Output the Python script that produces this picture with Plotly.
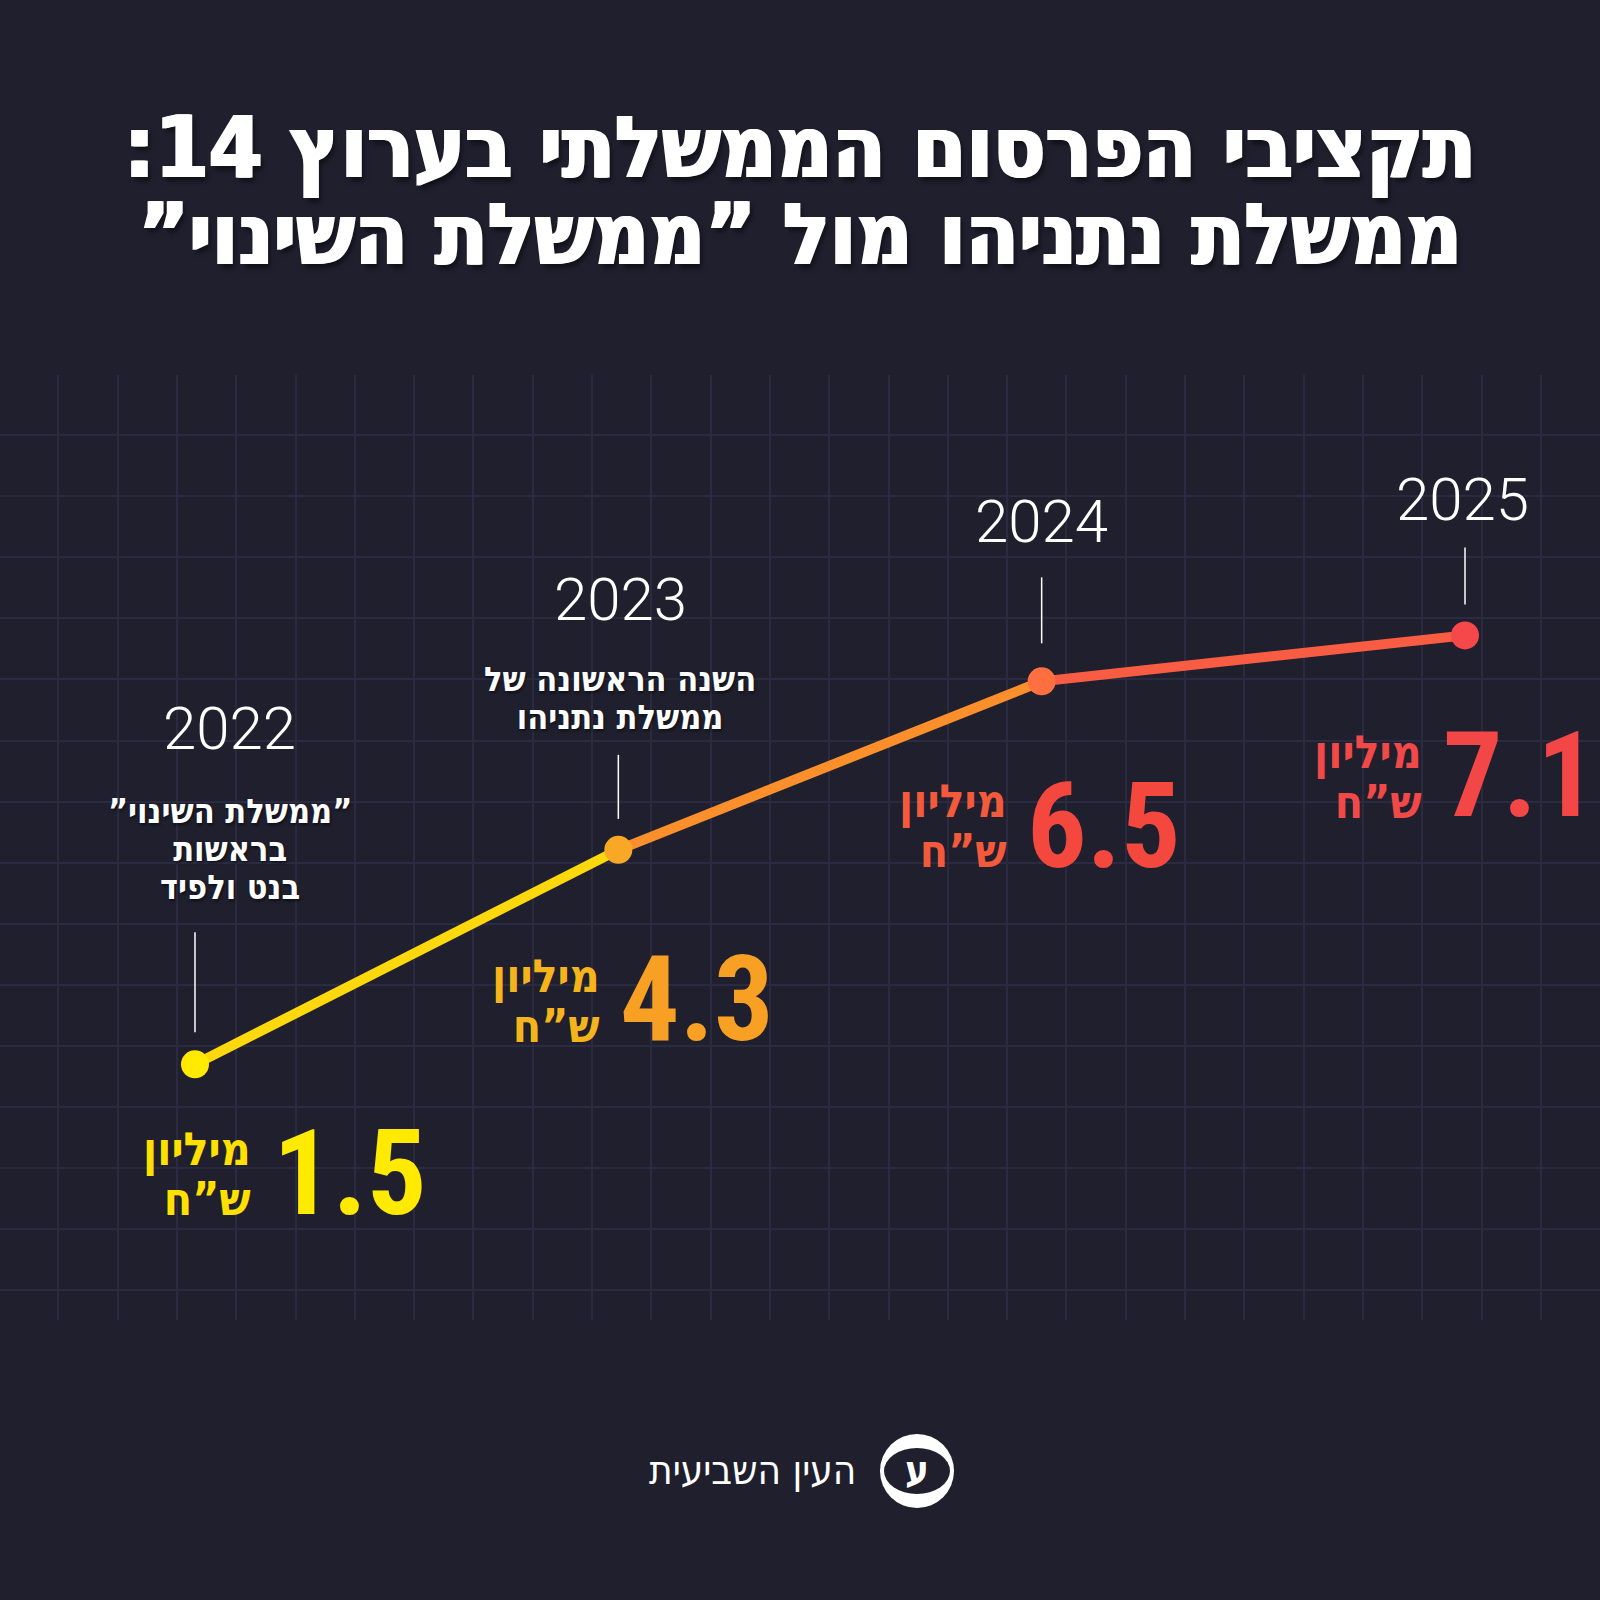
import plotly.graph_objects as go

RLM = "\u200f"

# data: government advertising budget on Channel 14, million NIS
years = [2022, 2023, 2024, 2025]
budget_m = [1.5, 4.3, 6.5, 7.1]
notes = [
    ["”ממשלת השינוי”", "בראשות", "בנט ולפיד"],
    ["השנה הראשונה של", "ממשלת נתניהו"],
    [],
    [],
]
unit_lines = ["מיליון", "ש”ח"]
title_lines = ["תקציבי הפרסום הממשלתי בערוץ 14:", "ממשלת נתניהו מול ”ממשלת השינוי”"]
brand = "העין השביעית"

# colours
BG = "#1f1f2e"
GRID = "#2a2b40"
dot_colors = ["#ffea00", "#f8a825", "#ff6f3f", "#f6474b"]
seg_colors = ["#fdd80d", "#fb8f2b", "#f85c43"]
num_colors = ["#ffea00", "#f7a024", "#f4483f", "#f34646"]
unit_colors = ["#ffe000", "#f5b41c", "#f35a3b", "#f14848"]

# label offsets in px, relative to each point (up is positive)
year_dx = [35, 2, 0, -3]
year_dy = [336, 250, 160, 136]
note_dx = [35, 2, 0, 0]
note_dy = [215, 152, 0, 0]
tick_lo = [32, 31, 38, 31]
tick_hi = [132, 95, 104, 88]
num_dx = [76, 0, -17, -24]
num_dy = [-110, -150, -146, -141]
unit_dx = [58, -16, -33, -41]
unit_dy = [-110, -151, -145, -142]

HEB = "DejaVu Sans Condensed"
NUM = "Noto Sans Condensed, Roboto Condensed, DejaVu Sans Condensed"


def px(x):
    return x / 1600


def py(y):
    return 1 - y / 1600


def rtl(s):
    return RLM + s + RLM


def stacked(lines, glyph_px, line_px):
    # plotly spaces lines at 1.3em of the base size, so the glyphs get
    # their own size and the base size sets the line pitch
    body = "<br>".join(f'<span style="font-size:{glyph_px}px">{rtl(s)}</span>' for s in lines)
    return body, line_px / 1.3


fig = go.Figure()

# empty trace so the background grid subplot gets drawn
fig.add_trace(go.Scatter(x=[None], y=[None], mode="lines", hoverinfo="skip", showlegend=False))

for i in range(len(years) - 1):
    fig.add_trace(go.Scatter(
        x=years[i:i + 2], y=budget_m[i:i + 2], mode="lines",
        line=dict(color=seg_colors[i], width=10),
        xaxis="x2", yaxis="y2", hoverinfo="skip", showlegend=False,
    ))

fig.add_trace(go.Scatter(
    x=years, y=budget_m, mode="markers",
    marker=dict(size=28, color=dot_colors),
    xaxis="x2", yaxis="y2", showlegend=False,
))

ann = []
shapes = []

# title (extra white shadows thicken the strokes)
t_text, t_size = stacked(title_lines, 86, 87)
ann.append(dict(
    text=t_text, xref="paper", yref="paper", x=0.5, y=py(190),
    xanchor="center", yanchor="middle", align="center", showarrow=False,
    font=dict(family=HEB, size=t_size, color="white", weight=800,
              shadow="1.5px 0 0 #fff, -1.5px 0 0 #fff, 3px 4px 5px rgba(0,0,0,0.5)"),
))

u_text, u_size = stacked(unit_lines, 46, 50)

for i, (yr, v) in enumerate(zip(years, budget_m)):
    ann.append(dict(
        text=str(yr), xref="x2", yref="y2", x=yr, y=v,
        xshift=year_dx[i], yshift=year_dy[i], showarrow=False,
        xanchor="center", yanchor="middle",
        font=dict(family="Roboto", size=60, color="white", weight=300),
    ))
    if notes[i]:
        n_text, n_size = stacked(notes[i], 34, 38)
        ann.append(dict(
            text=n_text, xref="x2", yref="y2", x=yr, y=v,
            xshift=note_dx[i], yshift=note_dy[i], showarrow=False,
            xanchor="center", yanchor="middle", align="center",
            font=dict(family=HEB, size=n_size, color="white", weight=600,
                      shadow="1px 2px 3px rgba(0,0,0,0.5)"),
        ))
    shapes.append(dict(
        type="line", xref="x2", yref="y2",
        xsizemode="pixel", ysizemode="pixel", xanchor=yr, yanchor=v,
        x0=0, x1=0, y0=tick_lo[i], y1=tick_hi[i],
        line=dict(color="white", width=1.5),
    ))
    ann.append(dict(
        text=f"{v:.1f}", xref="x2", yref="y2", x=yr, y=v,
        xshift=num_dx[i], yshift=num_dy[i], showarrow=False,
        xanchor="left", yanchor="middle",
        font=dict(family=NUM, size=118, color=num_colors[i], weight=700),
    ))
    ann.append(dict(
        text=u_text, xref="x2", yref="y2", x=yr, y=v,
        xshift=unit_dx[i], yshift=unit_dy[i], showarrow=False,
        xanchor="right", yanchor="middle", align="right",
        font=dict(family=HEB, size=u_size, color=unit_colors[i], weight=700),
    ))

# brand mark
shapes.append(dict(type="circle", xref="paper", yref="paper",
                   x0=px(880), x1=px(954), y0=py(1508), y1=py(1434),
                   fillcolor="white", line=dict(width=0)))
shapes.append(dict(type="circle", xref="paper", yref="paper",
                   x0=px(884), x1=px(950), y0=py(1494), y1=py(1448),
                   fillcolor=BG, line=dict(width=0)))
ann.append(dict(text="ע", xref="paper", yref="paper", x=px(917), y=py(1470),
                showarrow=False, xanchor="center", yanchor="middle",
                font=dict(family=HEB, size=40, color="white", weight=700)))
ann.append(dict(text=rtl(brand), xref="paper", yref="paper", x=px(752), y=py(1470),
                showarrow=False, xanchor="center", yanchor="middle",
                font=dict(family=HEB, size=40, color="white", weight=300)))

fig.update_layout(
    width=1600, height=1600,
    margin=dict(l=0, r=0, t=0, b=0),
    paper_bgcolor=BG, plot_bgcolor="rgba(0,0,0,0)",
    showlegend=False,
    annotations=ann, shapes=shapes,
    # background grid
    xaxis=dict(domain=[0, 1], range=[0, 1600], tick0=58.3, dtick=59.3,
               showgrid=True, gridcolor=GRID, gridwidth=2,
               showticklabels=False, zeroline=False, showline=False, ticks=""),
    yaxis=dict(domain=[py(1320), py(375)], range=[1320, 375], tick0=435, dtick=61.1,
               showgrid=True, gridcolor=GRID, gridwidth=2,
               showticklabels=False, zeroline=False, showline=False, ticks=""),
    # data axes
    xaxis2=dict(domain=[0, 1], anchor="y2", range=[2021.5394, 2025.3189], visible=False),
    yaxis2=dict(domain=[0, 1], anchor="x2", range=[-5.493, 15.395], visible=False),
)

fig.write_html("out.html", config={"displayModeBar": False},
               post_script="document.body.style.margin='0';"
               "document.body.style.background='%s';" % BG)
